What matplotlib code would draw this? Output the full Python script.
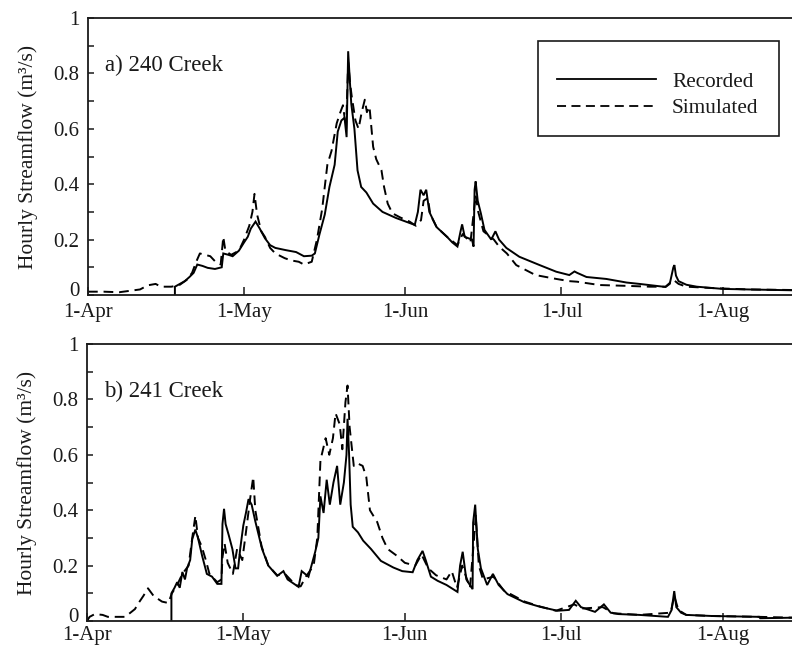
import matplotlib
matplotlib.use("Agg")
import matplotlib.pyplot as plt
import matplotlib.transforms as mtrans
from matplotlib.lines import Line2D
from matplotlib.patches import Rectangle

plt.rcParams['font.family'] = ['Liberation Serif', 'DejaVu Serif']

# x values are days since 1-Apr
month_ticks = [0, 30, 61, 91, 122]
month_labels = ['1-Apr', '1-May', '1-Jun', '1-Jul', '1-Aug']

# ---- a) 240 Creek ----
rec_a_day = [16.7, 16.7, 18.6, 19.5, 20.3, 21.0, 22.0, 23.0, 24.4, 25.7, 26.0, 27.0, 27.8, 29.0,
             30.0, 30.7, 31.3, 32.2, 33.0, 34.0, 35.0, 36.0, 38.0, 40.0, 41.5, 43.0, 43.6, 44.5,
             45.5, 46.4, 47.4, 48.0, 48.7, 49.3, 49.7, 50.0, 50.3, 50.6, 51.2, 51.8, 52.5, 53.5,
             54.8, 56.6, 59.2, 61.8, 62.8, 63.4, 63.9, 64.5, 65.0, 65.6, 67.0, 69.0, 70.0, 71.0,
             71.6, 71.9, 72.4, 73.8, 74.1, 74.3, 74.5, 74.9, 75.5, 76.2, 77.5, 78.3, 79.0, 80.4,
             82.9, 86.8, 90.0, 92.5, 93.5, 94.0, 95.8, 99.6, 103.5, 106.0, 111.0, 111.8, 112.5,
             112.7, 113.0, 113.5, 115.0, 117.0, 122.0, 127.0, 135.5]
rec_a_val = [0.0, 0.03, 0.05, 0.065, 0.08, 0.11, 0.105, 0.098, 0.094, 0.10, 0.15, 0.145, 0.14, 0.16,
             0.19, 0.21, 0.24, 0.265, 0.24, 0.205, 0.18, 0.17, 0.162, 0.155, 0.14, 0.142, 0.15, 0.22,
             0.29, 0.39, 0.47, 0.59, 0.63, 0.64, 0.57, 0.88, 0.78, 0.69, 0.60, 0.45, 0.39, 0.37,
             0.33, 0.30, 0.278, 0.26, 0.253, 0.30, 0.38, 0.36, 0.38, 0.30, 0.245, 0.21, 0.19, 0.175,
             0.23, 0.255, 0.21, 0.20, 0.175, 0.38, 0.41, 0.34, 0.295, 0.235, 0.20, 0.23, 0.20, 0.17,
             0.138, 0.108, 0.084, 0.072, 0.085, 0.08, 0.065, 0.058, 0.045, 0.04, 0.029, 0.04, 0.10,
             0.108, 0.07, 0.05, 0.037, 0.03, 0.022, 0.02, 0.017]

sim_a_day = [0, 3, 6, 8, 10, 11.5, 13, 14, 16, 17.5, 19, 20, 20.8, 21.5, 22.5, 23.5, 24.5, 25.5,
             26.0, 26.4, 27.5, 29.0, 30.0, 31.0, 31.6, 32.0, 32.5, 33.3, 34.0, 35.0, 36.0, 37.8,
             39.0, 40.5, 41.5, 43.0, 44.0, 45.0, 46.0, 46.8, 47.8, 48.5, 49.0, 49.6, 50.0, 50.4,
             50.7, 51.4, 52.0, 52.6, 53.2, 53.6, 54.1, 54.8, 55.4, 56.4, 56.9, 57.6, 58.5, 60.0,
             61.8, 63.0, 64.0, 64.5, 65.3, 65.8, 67.0, 69.0, 71.0, 72.0, 73.5, 74.5, 75.0, 76.0,
             78.0, 79.0, 80.5, 82.3, 86.0, 90.0, 92.5, 94.0, 98.3, 103.5, 108.0, 111.0, 112.5,
             113.5, 115.0, 120.0, 127.0, 135.5]
sim_a_val = [0.012, 0.012, 0.01, 0.015, 0.02, 0.035, 0.04, 0.03, 0.03, 0.035, 0.055, 0.08, 0.12,
             0.15, 0.145, 0.14, 0.12, 0.11, 0.21, 0.16, 0.145, 0.16, 0.20, 0.25, 0.30, 0.365, 0.29,
             0.23, 0.21, 0.17, 0.15, 0.133, 0.125, 0.12, 0.11, 0.12, 0.20, 0.31, 0.47, 0.52, 0.62,
             0.66, 0.685, 0.60, 0.84, 0.76, 0.715, 0.63, 0.60, 0.66, 0.705, 0.66, 0.68, 0.535,
             0.49, 0.45, 0.39, 0.33, 0.295, 0.28, 0.265, 0.25, 0.27, 0.34, 0.35, 0.29, 0.245, 0.21,
             0.18, 0.22, 0.19, 0.36, 0.30, 0.23, 0.20, 0.175, 0.15, 0.108, 0.072, 0.058, 0.05,
             0.048, 0.036, 0.033, 0.03, 0.03, 0.055, 0.04, 0.03, 0.025, 0.02, 0.018]

# ---- b) 241 Creek ----
rec_b_day = [16.2, 16.2, 16.8, 17.3, 17.8, 18.3, 18.8, 19.2, 19.8, 20.2, 20.8, 21.3, 22.1, 23.0,
             24.0, 25.0, 25.8, 26.0, 26.3, 26.6, 27.2, 27.9, 28.5, 29.0, 29.4, 30.0, 30.5, 31.0,
             31.6, 32.3, 33.6, 34.8, 36.5, 37.7, 38.5, 40.6, 41.2, 42.5, 43.8, 44.4, 44.8, 45.4,
             46.0, 46.6, 47.3, 48.0, 48.6, 49.3, 49.8, 50.0, 50.3, 50.6, 51.0, 52.0, 53.0, 54.5,
             56.4, 58.8, 60.5, 62.5, 63.4, 64.4, 65.0, 66.0, 67.3, 69.0, 71.1, 71.6, 72.1, 72.8,
             74.0, 74.1, 74.5, 75.0, 75.6, 76.8, 77.9, 79.0, 80.7, 83.9, 87.0, 90.3, 92.5, 93.8,
             94.8, 97.5, 99.2, 100.5, 102.0, 106.0, 111.5, 112.2, 112.7, 113.1, 114.0, 115.0,
             120.0, 129.0, 129.2, 135.5]
rec_b_val = [0.0, 0.10, 0.12, 0.14, 0.12, 0.177, 0.15, 0.19, 0.22, 0.296, 0.33, 0.30, 0.235, 0.17,
             0.16, 0.134, 0.134, 0.35, 0.405, 0.35, 0.31, 0.26, 0.19, 0.19, 0.26, 0.345, 0.39, 0.44,
             0.42, 0.36, 0.26, 0.20, 0.163, 0.18, 0.15, 0.123, 0.18, 0.16, 0.25, 0.30, 0.45, 0.39,
             0.51, 0.42, 0.50, 0.56, 0.42, 0.50, 0.60, 0.73, 0.60, 0.42, 0.34, 0.32, 0.29, 0.26,
             0.217, 0.193, 0.18, 0.176, 0.22, 0.253, 0.22, 0.16, 0.145, 0.13, 0.105, 0.20, 0.25,
             0.15, 0.115, 0.355, 0.42, 0.26, 0.19, 0.13, 0.17, 0.13, 0.097, 0.068, 0.051, 0.037,
             0.04, 0.073, 0.05, 0.033, 0.06, 0.03, 0.025, 0.022, 0.015, 0.04, 0.108, 0.05, 0.03,
             0.022, 0.018, 0.015, 0.01, 0.012]

sim_b_day = [0, 0.5, 1.5, 3, 4, 7.3, 8, 9.2, 9.9, 10.8, 11.7, 12.8, 14.4, 15.6, 16.3, 17.3, 18.3,
             19.5, 20.2, 20.8, 21.3, 22.0, 22.8, 23.5, 25.0, 25.8, 26.0, 26.4, 27.0, 28.0, 28.8,
             29.8, 30.5, 31.3, 31.9, 32.3, 33.5, 34.8, 36.5, 38.0, 40.0, 41.0, 42.0, 43.5, 44.2,
             44.8, 45.8, 46.5, 47.2, 47.7, 48.5, 49.0, 49.6, 50.0, 50.4, 51.2, 51.8, 52.9, 53.6,
             54.3, 55.7, 56.7, 57.7, 59.5, 61.0, 63.0, 64.2, 65.5, 67.0, 69.0, 70.0, 71.0, 72.0,
             73.5, 74.3, 74.6, 75.2, 76.0, 78.0, 80.0, 84.0, 87.0, 90.0, 93.5, 95.0, 99.0, 101.0,
             106.0, 112.0, 112.7, 113.5, 115.0, 120.0, 129.0, 135.5]
sim_b_val = [0.0, 0.015, 0.025, 0.022, 0.015, 0.015, 0.025, 0.043, 0.065, 0.09, 0.118, 0.09, 0.07,
             0.065, 0.10, 0.13, 0.17, 0.20, 0.30, 0.38, 0.30, 0.27, 0.22, 0.17, 0.14, 0.15, 0.23,
             0.28, 0.21, 0.17, 0.26, 0.22, 0.32, 0.44, 0.52, 0.40, 0.27, 0.20, 0.165, 0.17, 0.13,
             0.125, 0.16, 0.20, 0.30, 0.58, 0.66, 0.60, 0.66, 0.75, 0.71, 0.62, 0.79, 0.85, 0.70,
             0.56, 0.57, 0.56, 0.52, 0.40, 0.357, 0.30, 0.26, 0.235, 0.21, 0.20, 0.24, 0.19, 0.165,
             0.15, 0.18, 0.12, 0.20, 0.12, 0.30, 0.38, 0.20, 0.15, 0.16, 0.11, 0.07, 0.052, 0.037,
             0.06, 0.045, 0.05, 0.028, 0.022, 0.03, 0.09, 0.04, 0.022, 0.018, 0.015, 0.012]

panel_titles = ['a) 240 Creek', 'b) 241 Creek']
series_labels = ['Recorded', 'Simulated']
ylabel = 'Hourly Streamflow (m³/s)'

W, H = 792, 649
fig = plt.figure(figsize=(W / 100, H / 100), dpi=100)
ax_a = fig.add_axes([88 / W, 1 - 295 / H, 1 - 88 / W, 277 / H])
ax_b = fig.add_axes([87 / W, 1 - 621 / H, 1 - 87 / W, 277 / H])

ink = '#1a1a1a'
fs = 15
for ax, rd, rv, sd, sv, title, xpad in [
        (ax_a, rec_a_day, rec_a_val, sim_a_day, sim_a_val, panel_titles[0], 6),
        (ax_b, rec_b_day, rec_b_val, sim_b_day, sim_b_val, panel_titles[1], 3.5)]:
    ax.plot(rd, rv, color='black', lw=1.4, solid_joinstyle='miter')
    ax.plot(sd, sv, color='black', lw=1.4, linestyle=(0, (5, 3)))
    ax.set_xlim(0, 135.3)
    ax.set_ylim(0, 1)
    ax.set_xticks(month_ticks)
    ax.set_xticklabels(month_labels)
    ax.set_yticks([0, 0.2, 0.4, 0.6, 0.8, 1.0])
    ax.set_yticklabels(['0', '0.2', '0.4', '0.6', '0.8', '1'])
    ax.set_yticks([0.1, 0.3, 0.5, 0.7, 0.9], minor=True)
    ax.tick_params(axis='both', which='both', direction='in', colors=ink, labelsize=fs,
                   width=1.1, length=4.5)
    ax.tick_params(axis='x', length=5.5, pad=xpad)
    ax.tick_params(axis='y', pad=6)
    ax.spines['right'].set_visible(False)
    for s in ['left', 'top', 'bottom']:
        ax.spines[s].set_linewidth(1.3)
        ax.spines[s].set_color(ink)
    ax.set_ylabel(ylabel, fontsize=15.5, color=ink, labelpad=11)
    ax.text(0.024, 0.83, title, transform=ax.transAxes, fontsize=16.5, color=ink,
            va='center', ha='left')
    # lift the "0" label a little so it clears the date label below it
    zero_lbl = ax.get_yticklabels()[0]
    zero_lbl.set_transform(zero_lbl.get_transform() +
                           mtrans.ScaledTranslation(0, 4 / 72, fig.dpi_scale_trans))

# legend frame box (top panel)
ax_a.add_patch(Rectangle(((538 - 88) / 704, (295 - 136) / 277), (779 - 538) / 704,
                         (136 - 41) / 277, transform=ax_a.transAxes, fill=False,
                         edgecolor=ink, lw=1.2, zorder=5))
handles = [Line2D([], [], color='black', lw=1.3),
           Line2D([], [], color='black', lw=1.3, linestyle=(0, (5, 3)))]
leg = ax_a.legend(handles, series_labels, loc='upper left',
                  bbox_to_anchor=((557 - 88) / 704, (295 - 72) / 277),
                  fontsize=15.3, frameon=False, handlelength=4.66, handletextpad=0.75,
                  labelspacing=0.3, borderpad=0, borderaxespad=0)
for t in leg.get_texts():
    t.set_color(ink)

fig.savefig('out.png', dpi=100)
